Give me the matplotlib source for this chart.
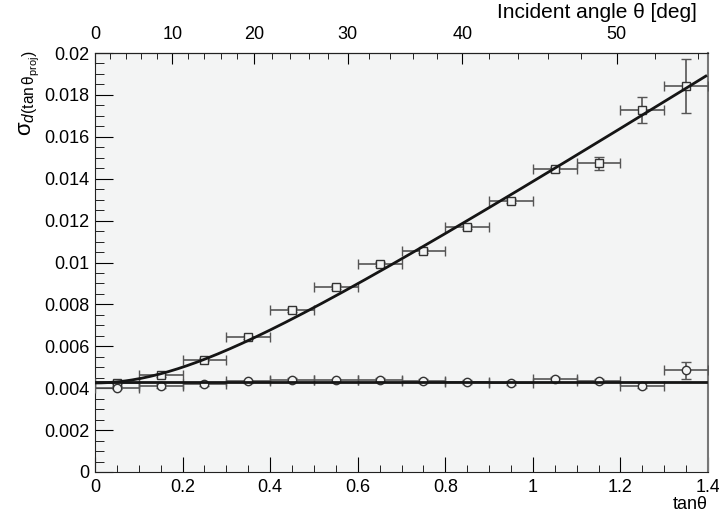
import numpy as np
import matplotlib
matplotlib.use("Agg")
import matplotlib.pyplot as plt
from matplotlib.ticker import MultipleLocator, FuncFormatter

# bin centres in tan(theta) and half widths
tan_theta = [0.05, 0.15, 0.25, 0.35, 0.45, 0.55, 0.65, 0.75, 0.85, 0.95, 1.05, 1.15, 1.25, 1.35]
x_err = [0.05] * 14

# open squares
sq_vals = [0.00427, 0.00462, 0.00536, 0.00643, 0.00774, 0.00883, 0.00991,
           0.01056, 0.01171, 0.01295, 0.01444, 0.01473, 0.01728, 0.01843]
sq_err = [0.00008, 0.00008, 0.00008, 0.00008, 0.0001, 0.0001, 0.0001,
          0.0001, 0.0001, 0.0001, 0.00012, 0.0003, 0.00061, 0.0013]

# open circles
ci_vals = [0.00403, 0.00411, 0.00419, 0.00432, 0.0044, 0.00438, 0.0044,
           0.00435, 0.00429, 0.00424, 0.00443, 0.00435, 0.00411, 0.00485]
ci_err = [0.00008, 0.00008, 0.00008, 0.00008, 0.00008, 0.00008, 0.00008,
          0.00008, 0.00008, 0.00008, 0.0001, 0.0001, 0.00012, 0.0004]

# fit parameters: sigma = sqrt(a^2 + (b tan)^2) for squares, constant for circles
fit_a = 0.00425
fit_b = 0.0132
const_fit = 0.00429

plt.rcParams['font.family'] = ['Liberation Sans', 'DejaVu Sans']
plt.rcParams['mathtext.fontset'] = 'custom'
plt.rcParams['mathtext.rm'] = 'Liberation Sans'
plt.rcParams['mathtext.it'] = 'Liberation Sans:italic'

bg = '#f3f4f4'
fig = plt.figure(figsize=(7.19, 5.13), dpi=100)
ax = fig.add_axes([95/719, 41/513, 613/719, 419/513])
ax.set_facecolor(bg)

ax.errorbar(tan_theta, sq_vals, xerr=x_err, yerr=sq_err, fmt='s', ms=5.5, mfc=bg, mec='#333333',
            mew=1, ecolor='#555555', elinewidth=1.2, capsize=3.5, capthick=1.2, zorder=3)
ax.errorbar(tan_theta, ci_vals, xerr=x_err, yerr=ci_err, fmt='o', ms=6, mfc=bg, mec='#333333',
            mew=1, ecolor='#555555', elinewidth=1.2, capsize=3.5, capthick=1.2, zorder=3)

xf = np.linspace(0, 1.395, 200)
ax.plot(xf, np.sqrt(fit_a**2 + (fit_b*xf)**2), color='#151515', lw=2, zorder=4)
ax.plot([0, 1.395], [const_fit, const_fit], color='#151515', lw=2, zorder=4)

ax.set_xlim(0, 1.4)
ax.set_ylim(0, 0.02)
ax.xaxis.set_major_locator(MultipleLocator(0.2))
ax.xaxis.set_minor_locator(MultipleLocator(0.05))
ax.yaxis.set_major_locator(MultipleLocator(0.002))
ax.yaxis.set_minor_locator(MultipleLocator(0.0005))
fmt = FuncFormatter(lambda v, p: '%g' % round(v, 6))
ax.xaxis.set_major_formatter(fmt)
ax.yaxis.set_major_formatter(fmt)
ax.tick_params(axis='both', which='both', direction='in', labelsize=13, top=False, right=False)
ax.tick_params(axis='x', which='major', length=11, pad=5)
ax.tick_params(axis='x', which='minor', length=5)
ax.tick_params(axis='y', which='major', length=13, pad=4)
ax.tick_params(axis='y', which='minor', length=6.5)
for s in ['left', 'bottom', 'top']:
    ax.spines[s].set_color('#222222')
ax.spines['right'].set_color('#777777')
ax.spines['right'].set_linewidth(1.5)

# top axis: incident angle in degrees
secax = ax.secondary_xaxis('top', functions=(lambda t: np.degrees(np.arctan(t)),
                                              lambda d: np.tan(np.radians(d))))
secax.set_xticks([0, 10, 20, 30, 40, 50])
secax.set_xticks(list(range(0, 56, 2)), minor=True)
secax.tick_params(axis='x', which='both', direction='in', labelsize=13)
secax.tick_params(axis='x', which='major', length=8, pad=7)
secax.tick_params(axis='x', which='minor', length=4)
fig.text(697/719, 1 - 13/513, 'Incident angle θ [deg]', fontsize=15, ha='right', va='center')

ax.set_xlabel('tanθ', fontsize=13, loc='right')
ax.xaxis.set_label_coords(1.0, -0.058)
ax.set_ylabel(r'$\mathrm{σ}_{\mathit{d}(\mathrm{tan\,θ}_{\mathrm{proj}})}$', fontsize=16, loc='top')
ax.yaxis.set_label_coords(-0.088, 1.005)

fig.savefig('out.png', dpi=100)
